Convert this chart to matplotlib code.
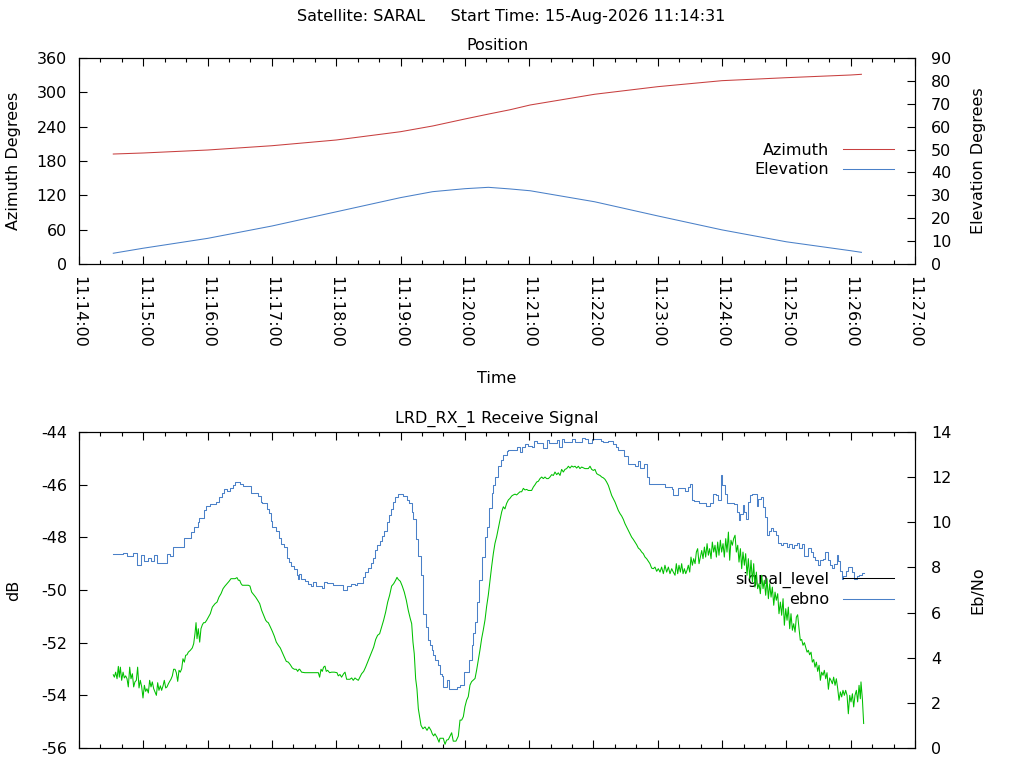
import matplotlib
matplotlib.use('Agg')
import matplotlib.pyplot as plt
from matplotlib.lines import Line2D

plt.rcParams['font.family'] = ['DejaVu Sans']
plt.rcParams['font.size'] = 11.5
plt.rcParams['axes.unicode_minus'] = False

# ---------------- data ----------------
# time axis: seconds after 11:14:00
time_labels = ['11:14:00', '11:15:00', '11:16:00', '11:17:00', '11:18:00', '11:19:00',
               '11:20:00', '11:21:00', '11:22:00', '11:23:00', '11:24:00', '11:25:00',
               '11:26:00', '11:27:00']

pos_t = [32, 60, 120, 180, 240, 300, 330, 360, 382, 402, 421, 481, 540, 600, 660, 720, 730]
azimuth = [192.2, 194.0, 199.2, 206.7, 216.7, 231.2, 241.2, 253.4, 262.0, 269.5, 277.9,
           296.6, 309.9, 320.4, 325.6, 330.3, 331.5]
elevation = [4.7, 6.9, 11.2, 16.6, 22.8, 29.0, 31.6, 32.9, 33.5, 32.8, 32.0, 27.2, 21.0,
             14.9, 9.7, 5.8, 5.1]

sig_t = [
    32.0, 33.0, 34.2, 35.5, 36.7, 37.6, 38.6, 39.8, 41.1, 42.3, 43.5, 44.8, 46.0, 47.3, 48.5,
    49.8, 51.0, 52.2, 53.5, 54.7, 56.0, 57.2, 58.5, 59.7, 61.0, 62.2, 63.4, 64.7, 65.9, 67.2,
    68.4, 69.7, 70.9, 72.2, 73.4, 74.6, 75.9, 77.1, 78.4, 79.6, 80.9, 82.1, 83.4, 84.6, 85.8,
    87.1, 88.3, 89.6, 90.8, 92.1, 93.3, 94.5, 95.8, 97.0, 98.3, 99.5, 100.8, 102.0, 103.9,
    105.7, 107.0, 108.2, 109.2, 110.1, 111.3, 112.6, 113.8, 115.1, 116.3, 117.6, 119.1, 120.7,
    122.5, 124.4, 126.9, 128.8, 130.6, 132.5, 134.4, 136.2, 138.1, 140.0, 141.8, 143.7, 145.6,
    147.4, 148.7, 149.9, 151.2, 152.4, 154.9, 158.0, 159.5, 161.1, 163.0, 164.8, 166.7, 168.6,
    170.4, 172.3, 174.2, 175.4, 176.6, 178.5, 180.4, 182.2, 184.1, 186.0, 187.8, 189.7, 191.6,
    193.4, 195.3, 197.2, 199.0, 200.9, 202.8, 204.0, 205.3,
    205.9, 207.7, 210.8, 213.9, 217.1, 220.2, 223.3, 224.5, 225.8, 227.0, 228.2, 229.5, 230.7,
    232.0, 233.8, 235.7, 238.2, 240.7, 241.9, 243.5, 245.0, 246.9, 248.2, 249.7, 252.8, 254.4,
    255.9, 257.5, 259.0, 260.6, 262.1, 263.7, 265.6, 267.4, 269.3, 271.2, 273.0, 274.9, 276.8,
    278.6, 280.5, 282.4, 284.2, 286.1, 288.0, 289.8, 291.7, 293.6, 295.4, 296.7, 297.9, 299.8,
    301.6, 303.5, 305.4, 307.2, 309.1, 310.4, 311.6, 312.8, 314.1, 315.3, 316.6, 317.8, 319.1,
    320.9, 322.8, 324.7, 326.5, 328.4, 329.6, 330.9, 332.1, 334.0, 335.9,
    336.8, 338.3, 339.9, 341.5, 343.0, 344.6, 346.1, 347.7, 349.2, 351.7, 353.9, 355.5, 357.0,
    358.6, 360.1, 361.7, 363.2, 364.8, 366.3, 367.9, 369.5, 371.0, 372.6, 374.1, 375.7, 377.2,
    378.8, 380.3, 381.9, 383.5, 385.0, 386.6, 388.1, 389.7, 391.2, 392.8, 394.4, 395.9, 397.4,
    399.0, 400.6, 402.1, 403.7, 405.2, 406.8, 408.3, 409.9, 411.4, 413.0, 414.6, 416.1, 417.7,
    419.2, 422.3, 423.9, 425.5, 427.0, 428.6, 430.1, 431.7, 433.2, 434.8, 436.3, 437.9, 439.4,
    441.0, 442.6, 444.1, 445.7, 447.2, 448.8, 450.3, 451.9, 453.4, 455.0, 456.6, 458.1, 459.7,
    461.2, 462.8, 464.3, 465.9, 467.4, 469.0, 472.1, 475.2, 476.8, 478.3, 479.9, 481.4, 483.0,
    484.5, 486.1, 487.7, 489.2, 490.8, 492.3, 493.9, 495.4, 497.0, 498.5, 500.1, 501.6, 503.2,
    504.8, 506.3, 507.9, 509.4, 511.0, 512.5, 514.1, 515.6, 517.2, 518.8, 520.3, 521.9, 523.4,
    525.0, 526.5, 528.1, 529.6, 531.2, 532.7, 534.3, 535.9, 537.4, 539.0, 540.5, 542.1, 543.6,
    545.2, 546.7, 548.3, 549.9, 551.4, 553.0, 554.5,
    556.1, 557.3, 558.6, 559.8, 561.1, 562.3, 563.6, 564.8, 566.1, 567.3, 568.5, 569.8, 571.0,
    572.3, 573.5, 574.8, 576.0, 577.2, 578.5, 579.7, 581.0, 582.2, 583.5, 584.7, 586.0, 587.2,
    588.4, 589.7, 590.9, 592.2, 593.4, 594.7, 595.9, 597.1, 598.4, 599.6, 600.9, 602.1, 603.4,
    604.6, 605.9, 607.1, 608.3, 609.6, 610.8, 612.1, 613.3, 614.6, 615.8, 617.1, 618.3, 619.5,
    620.8, 622.0, 623.3, 624.5, 625.8, 627.0, 628.3, 629.5, 630.7, 632.0, 633.2, 634.5, 635.7,
    637.0, 638.2, 639.4, 640.7, 641.9, 643.2, 644.4, 645.7, 646.9, 648.2, 649.4, 650.6, 651.9,
    653.1, 654.4, 655.6, 656.9, 658.1, 659.4, 660.6, 661.8, 663.1, 664.3, 665.6, 666.8, 668.1,
    669.3, 670.5, 671.8, 673.0, 674.3, 675.5, 676.8, 678.0, 679.3, 680.5, 681.7, 683.0, 684.2,
    685.5, 686.7, 688.0, 689.2, 690.5, 691.7, 692.9, 694.2, 695.4, 696.7, 697.9, 699.2, 700.4,
    701.6, 702.9, 704.1, 705.4, 706.6, 707.9, 709.1, 710.4, 711.6, 712.8, 714.1, 715.3, 716.6,
    717.8, 719.1, 720.3, 721.6, 722.8, 724.0, 725.3, 726.5, 727.8, 729.0, 729.6, 730.9, 732.1]

signal_level = [
    -53.22, -53.31, -53.12, -53.37, -52.90, -53.31, -52.93, -53.43, -53.12, -53.34, -53.26,
    -53.37, -53.68, -52.93, -53.37, -53.18, -53.68, -53.49, -53.43, -52.93, -53.72, -53.43,
    -53.68, -54.10, -53.62, -53.85, -53.75, -53.91, -53.43, -53.68, -53.49, -53.75, -53.87,
    -54.00, -53.52, -53.81, -53.64, -53.81, -53.64, -53.43, -53.72, -53.68, -53.56, -53.47,
    -53.39, -53.26, -53.01, -53.01, -53.14, -53.47, -53.05, -53.12, -52.99, -52.61, -52.74,
    -52.48, -52.46, -52.36, -52.29, -52.20, -52.04, -51.66, -51.24, -51.85, -51.47, -51.98,
    -51.47, -51.32, -51.24, -51.24, -51.15, -51.03, -50.90, -50.65, -50.52, -50.46, -50.27,
    -50.14, -49.95, -49.85, -49.76, -49.67, -49.57, -49.57, -49.57, -49.53, -49.63, -49.63,
    -49.76, -49.82, -49.82, -49.82, -49.85, -50.08, -50.18, -50.27, -50.39, -50.52, -50.77,
    -50.96, -51.15, -51.21, -51.24, -51.40, -51.57, -51.75, -51.98, -52.10, -52.20, -52.38,
    -52.55, -52.71, -52.74, -52.84, -52.96, -53.01, -53.01, -53.09, -53.01,
    -53.01, -53.12, -53.14, -53.14, -53.14, -53.14, -53.14, -53.31, -53.01, -53.09, -52.93,
    -52.89, -53.09, -53.05, -53.14, -53.12, -53.12, -53.14, -53.26, -53.21, -53.31, -53.18,
    -53.12, -53.39, -53.39, -53.34, -53.43, -53.34, -53.39, -53.43, -53.31, -53.18, -53.09,
    -52.93, -52.74, -52.55, -52.36, -52.17, -51.88, -51.72, -51.66, -51.40, -51.15, -50.84,
    -50.46, -50.20, -49.85, -49.76, -49.63, -49.52, -49.60, -49.67, -49.85, -50.08, -50.39,
    -50.77, -51.09, -51.28, -51.98, -52.42, -53.37, -53.75, -54.51, -54.82, -55.14, -55.27,
    -55.20, -55.33, -55.20, -55.33, -55.46, -55.54, -55.46, -55.59, -55.78,
    -55.63, -55.63, -55.63, -55.86, -55.70, -55.68, -55.55, -55.42, -55.74, -55.74, -55.55,
    -54.94, -54.94, -54.81, -54.43, -54.18, -54.05, -53.61, -53.48, -53.42, -53.36, -53.04,
    -52.66, -52.28, -51.84, -51.52, -51.14, -50.63, -50.19, -49.62, -49.11, -48.61, -48.23,
    -47.97, -47.66, -47.34, -47.03, -46.84, -46.92, -46.71, -46.58, -46.52, -46.43, -46.39,
    -46.36, -46.39, -46.33, -46.27, -46.27, -46.14, -46.20, -46.18,
    -46.22, -46.22, -46.09, -46.00, -45.90, -45.87, -45.77, -45.71, -45.77, -45.71, -45.77,
    -45.77, -45.71, -45.62, -45.65, -45.52, -45.62, -45.55, -45.65, -45.42, -45.52, -45.42,
    -45.39, -45.30, -45.37, -45.29, -45.33, -45.30, -45.37, -45.30, -45.39, -45.33, -45.39,
    -45.39, -45.30, -45.42, -45.46, -45.42, -45.58, -45.62, -45.65, -45.71, -45.74, -45.80,
    -45.90, -46.03, -46.22, -46.41, -46.53, -46.66, -46.81, -46.98, -47.10, -47.19, -47.32,
    -47.48, -47.61, -47.73, -47.86, -47.99, -48.08, -48.18, -48.28, -48.41, -48.46, -48.56,
    -48.62, -48.75, -48.81, -48.91, -49.00, -49.17, -49.19, -49.13, -49.29, -49.19, -49.32,
    -49.13, -49.38, -49.06, -49.32, -49.13, -49.38, -49.19, -49.32,
    -49.44, -49.00, -49.38, -49.06, -49.32, -49.00, -49.38, -49.19, -49.38, -49.25, -49.06,
    -49.32, -48.75, -49.06, -48.81, -49.00, -48.56, -48.43, -49.00, -48.75, -48.50, -48.81,
    -48.37, -48.75, -48.24, -48.68, -48.43, -48.81, -48.18, -48.56, -48.30, -48.75, -48.18,
    -48.68, -48.11, -48.56, -48.24, -48.75, -48.05, -48.56, -47.80, -48.87, -48.11, -48.30,
    -48.05, -47.92, -48.56, -48.30, -48.94, -48.43, -49.19, -48.56, -49.06, -48.62, -49.44,
    -48.81, -49.57, -48.87, -49.70, -49.00, -49.89, -49.32, -49.95, -49.76, -50.14, -49.44,
    -49.95, -49.63, -50.20, -49.57, -50.33, -49.76, -50.27, -49.89, -50.58, -50.08, -50.39,
    -50.14, -50.90, -50.46, -50.96, -50.33, -51.34, -50.71, -51.15, -50.65, -51.47, -50.90,
    -51.53, -51.28, -51.60, -51.03, -50.94, -51.47, -51.91, -51.88, -52.10, -52.00, -52.17,
    -52.36, -52.29, -52.46, -52.36, -52.74, -52.64, -52.93, -52.74, -53.09, -52.86, -53.43,
    -53.12, -53.24, -53.05, -53.37, -53.14, -53.77, -53.34, -53.43, -53.56, -53.31, -53.62,
    -53.37, -53.75, -54.19, -53.87, -54.06, -53.81, -54.00, -53.81, -54.00, -54.70, -54.00,
    -54.25, -53.94, -54.44, -54.00, -53.81, -54.25, -53.62, -54.13, -53.49, -54.13, -55.07]

ebno_t = [
    32.0, 41.4, 44.5, 50.7, 53.8, 57.5, 61.0, 64.1, 67.2, 70.0, 72.5, 81.8, 84.9, 87.4, 98.3,
    104.5, 107.6, 110.7, 112.0, 117.0, 118.2, 122.2, 127.8, 130.9, 133.1, 135.6, 137.8, 140.9,
    143.4, 145.6, 150.2, 153.3, 160.5, 167.3, 169.5, 171.1, 175.1, 177.3, 179.1, 180.4, 183.5,
    186.6, 188.5, 191.6, 194.4, 196.0, 197.8, 200.6, 203.1, 204.0, 205.2, 207.1, 210.8, 213.9,
    216.4, 218.6, 220.8, 226.4, 228.9, 231.0, 237.3, 246.6, 249.7, 253.7, 257.5, 259.0, 265.3,
    266.8, 269.9, 272.4, 274.6, 276.1, 277.7, 280.8, 283.0, 284.8, 287.0, 289.2, 291.1, 293.2,
    294.8, 297.9, 300.4, 302.6, 305.7, 308.2, 310.4, 311.9, 314.1, 316.6, 319.1, 321.2, 323.4,
    325.3, 327.5, 329.0, 330.6, 332.1, 334.6, 336.8, 338.3, 339.9, 343.3, 345.5, 352.3, 355.5,
    359.2, 364.2, 366.3, 367.9, 369.5, 371.6, 373.5, 375.7, 378.8, 381.0, 382.8, 385.0, 386.5,
    388.1, 391.2, 393.7, 395.9, 399.0, 400.6, 408.3, 411.5, 413.6, 416.1, 419.2, 422.3, 424.8,
    427.0, 433.2, 436.3, 438.5, 445.7, 447.8, 450.3, 452.5, 459.7, 462.8, 469.0, 472.1, 474.6,
    478.3, 481.4, 487.0, 489.2, 493.9, 498.5, 500.7, 503.2, 508.8, 511.9, 518.8, 521.2, 523.4,
    527.5, 529.6, 531.8, 546.7, 553.0, 554.5, 558.6, 565.4, 567.9, 570.1, 572.3, 574.1, 578.5,
    584.7, 588.8, 591.9, 594.0, 596.5, 598.7, 600.3, 602.8, 604.9, 611.5, 614.0, 615.8, 617.1,
    619.2, 620.8, 622.3, 623.9, 626.1, 628.3, 630.1, 632.3, 633.9, 636.3, 638.5, 640.1, 642.2,
    643.8, 645.7, 647.8, 650.0, 652.5, 655.0, 657.2, 660.3, 662.5, 665.0, 667.4, 669.6, 671.8,
    674.3, 676.5, 679.0, 680.5, 683.0, 685.2, 686.7, 689.2, 691.4, 694.5, 696.1, 698.5, 700.7,
    702.3, 704.8, 706.9, 708.5, 710.0, 711.6, 713.2, 715.3, 717.8, 720.9, 723.1, 725.6, 727.8,
    730.3, 732.1]

ebno = [
    8.58, 8.65, 8.49, 8.65, 8.09, 8.57, 8.30, 8.40, 8.30, 8.57, 8.18, 8.58, 8.49, 8.89, 9.29,
    9.58, 9.79, 10.01, 10.18, 10.53, 10.72, 10.82, 10.90, 11.12, 11.30, 11.49, 11.37, 11.52,
    11.64, 11.77, 11.71, 11.62, 11.28, 11.17, 10.90, 10.87, 10.60, 10.41, 10.04, 9.78, 9.61,
    9.30, 9.05, 8.91, 8.42, 8.24, 8.06, 7.92, 7.65, 7.49, 7.69, 7.49, 7.40, 7.28,
    7.19, 7.37, 7.19, 7.10, 7.37, 7.31, 7.21, 7.00, 7.19, 7.28, 7.21, 7.30, 7.58,
    7.78, 7.99, 8.18, 8.40, 8.76, 8.98, 9.16, 9.38, 9.60, 10.01, 10.31, 10.58, 10.90,
    11.12, 11.27, 11.24, 11.15, 10.97, 10.87, 10.46, 10.13, 9.27, 8.49, 7.68, 5.95, 5.36,
    4.77, 4.55, 4.33, 4.11, 3.89, 3.66, 3.30, 3.18, 2.72, 3.00, 2.60, 2.69, 2.78,
    3.38, 3.90, 4.55, 5.08, 5.60, 6.48, 7.44, 8.48, 9.36, 9.80, 10.62, 11.28, 11.64,
    12.01, 12.48, 12.75, 13.00, 13.15, 13.20, 13.35, 13.11, 13.32, 13.48, 13.40, 13.33, 13.59,
    13.53, 13.30, 13.64, 13.53, 13.64, 13.33, 13.68, 13.56, 13.68, 13.57, 13.75, 13.68, 13.53,
    13.68, 13.70, 13.59, 13.56, 13.59, 13.48, 13.33, 13.19, 12.94, 12.57, 12.50, 12.70, 12.41,
    12.57, 12.01, 11.68, 11.56, 11.49, 11.20, 11.52, 11.37, 11.56, 11.68, 10.97, 10.94, 10.87,
    10.72, 10.87, 11.27, 11.20, 10.97, 12.08, 11.64, 11.27, 10.87, 10.82, 10.46, 10.09, 10.35,
    10.78, 10.46, 10.13, 10.90, 11.20, 11.26, 11.27, 10.72, 11.05, 11.11, 10.67, 10.23, 9.42,
    9.60, 9.76, 9.61, 9.42, 9.10, 9.01, 9.07, 8.91, 9.05, 8.87, 8.98, 9.07, 8.87,
    9.05, 8.51, 8.49, 8.87, 8.68, 8.46, 8.32, 8.12, 8.32, 8.37, 8.68, 8.32, 8.09,
    7.98, 8.17, 8.57, 8.28, 7.83, 7.50, 7.62, 7.83, 8.01, 7.80, 7.50, 7.61, 7.68,
    7.77, 7.77]

# ---------------- styles ----------------
RED = '#c84040'
BLUE = '#4a80c8'
GREEN = '#00c000'
W, H = 1024, 768
LW = 0.75
FS = 11.5

fig = plt.figure(figsize=(W / 100, H / 100), dpi=100)

def fx(px):
    return px / W

def fy(py):
    return 1 - py / H

ax1 = fig.add_axes([fx(79), fy(264), fx(836), 206 / H])
ax1r = ax1.twinx()
ax2 = fig.add_axes([fx(79), fy(748), fx(836), 316 / H])
ax2r = ax2.twinx()

major_x = [60 * i for i in range(len(time_labels))]
minor_x = [20 * i for i in range(3 * (len(time_labels) - 1) + 1)]

for ax in (ax1, ax2):
    ax.set_xlim(0, 780)
    ax.set_xticks(major_x)
    ax.set_xticks(minor_x, minor=True)
    ax.tick_params(axis='x', which='major', direction='in', length=6, width=0.8,
                   top=True, bottom=True, pad=8.5, labelsize=FS)
    ax.tick_params(axis='x', which='minor', direction='in', length=3, width=0.8,
                   top=True, bottom=True)
    ax.tick_params(axis='y', direction='in', length=6, width=0.8, pad=8.5, labelsize=FS)
    for s in ax.spines.values():
        s.set_linewidth(0.8)

for ax in (ax1r, ax2r):
    ax.tick_params(axis='y', direction='in', length=6, width=0.8, pad=11.5, labelsize=FS)
    for s in ax.spines.values():
        s.set_linewidth(0.8)

ax1.set_xticklabels(time_labels, rotation=270, ha='center', va='top')
ax2.set_xticklabels([])

legend_kw = dict(loc='center right', markerfirst=False, frameon=False,
                 handlelength=3.2, handletextpad=0.85, borderpad=0, borderaxespad=0,
                 labelspacing=0.3, fontsize=FS)

# top plot
ax1.set_ylim(0, 360)
ax1.set_yticks(range(0, 361, 60))
ax1r.set_ylim(0, 90)
ax1r.set_yticks(range(0, 91, 10))
ax1.plot(pos_t, azimuth, color=RED, lw=LW)
ax1r.plot(pos_t, elevation, color=BLUE, lw=LW)
h_top = [Line2D([], [], color=RED, lw=LW), Line2D([], [], color=BLUE, lw=LW)]
ax1r.legend(h_top, ['Azimuth', 'Elevation'], bbox_to_anchor=(0.975, 0.505), **legend_kw)

# bottom plot
ax2.set_ylim(-56, -44)
ax2.set_yticks(range(-56, -43, 2))
ax2r.set_ylim(0, 14)
ax2r.set_yticks(range(0, 15, 2))
ax2r.step(ebno_t, ebno, where='post', color=BLUE, lw=LW)
ax2.plot(sig_t, signal_level, color=GREEN, lw=LW, zorder=3)
ax2.set_zorder(ax2r.get_zorder() + 1)
ax2.patch.set_visible(False)
h_bot = [Line2D([], [], color='black', lw=LW), Line2D([], [], color=BLUE, lw=LW)]
leg2 = ax2.legend(h_bot, ['signal_level', 'ebno'], bbox_to_anchor=(0.975, 0.502), **legend_kw)
leg2.set_zorder(1)

# texts
fig.text(fx(511), fy(17), 'Satellite: SARAL     Start Time: 15-Aug-2026 11:14:31',
         ha='center', va='center', fontsize=FS)
fig.text(fx(497), fy(46), 'Position', ha='center', va='center', fontsize=FS)
fig.text(fx(497), fy(379), 'Time', ha='center', va='center', fontsize=FS)
fig.text(fx(497), fy(419), 'LRD_RX_1 Receive Signal', ha='center', va='center', fontsize=FS)
fig.text(fx(14), fy(161), 'Azimuth Degrees', rotation=90, ha='center', va='center', fontsize=FS)
fig.text(fx(978), fy(161), 'Elevation Degrees', rotation=90, ha='center', va='center', fontsize=FS)
fig.text(fx(14), fy(590), 'dB', rotation=90, ha='center', va='center', fontsize=FS)
fig.text(fx(978), fy(590), 'Eb/No', rotation=90, ha='center', va='center', fontsize=FS)

fig.savefig('out.png', dpi=100)
